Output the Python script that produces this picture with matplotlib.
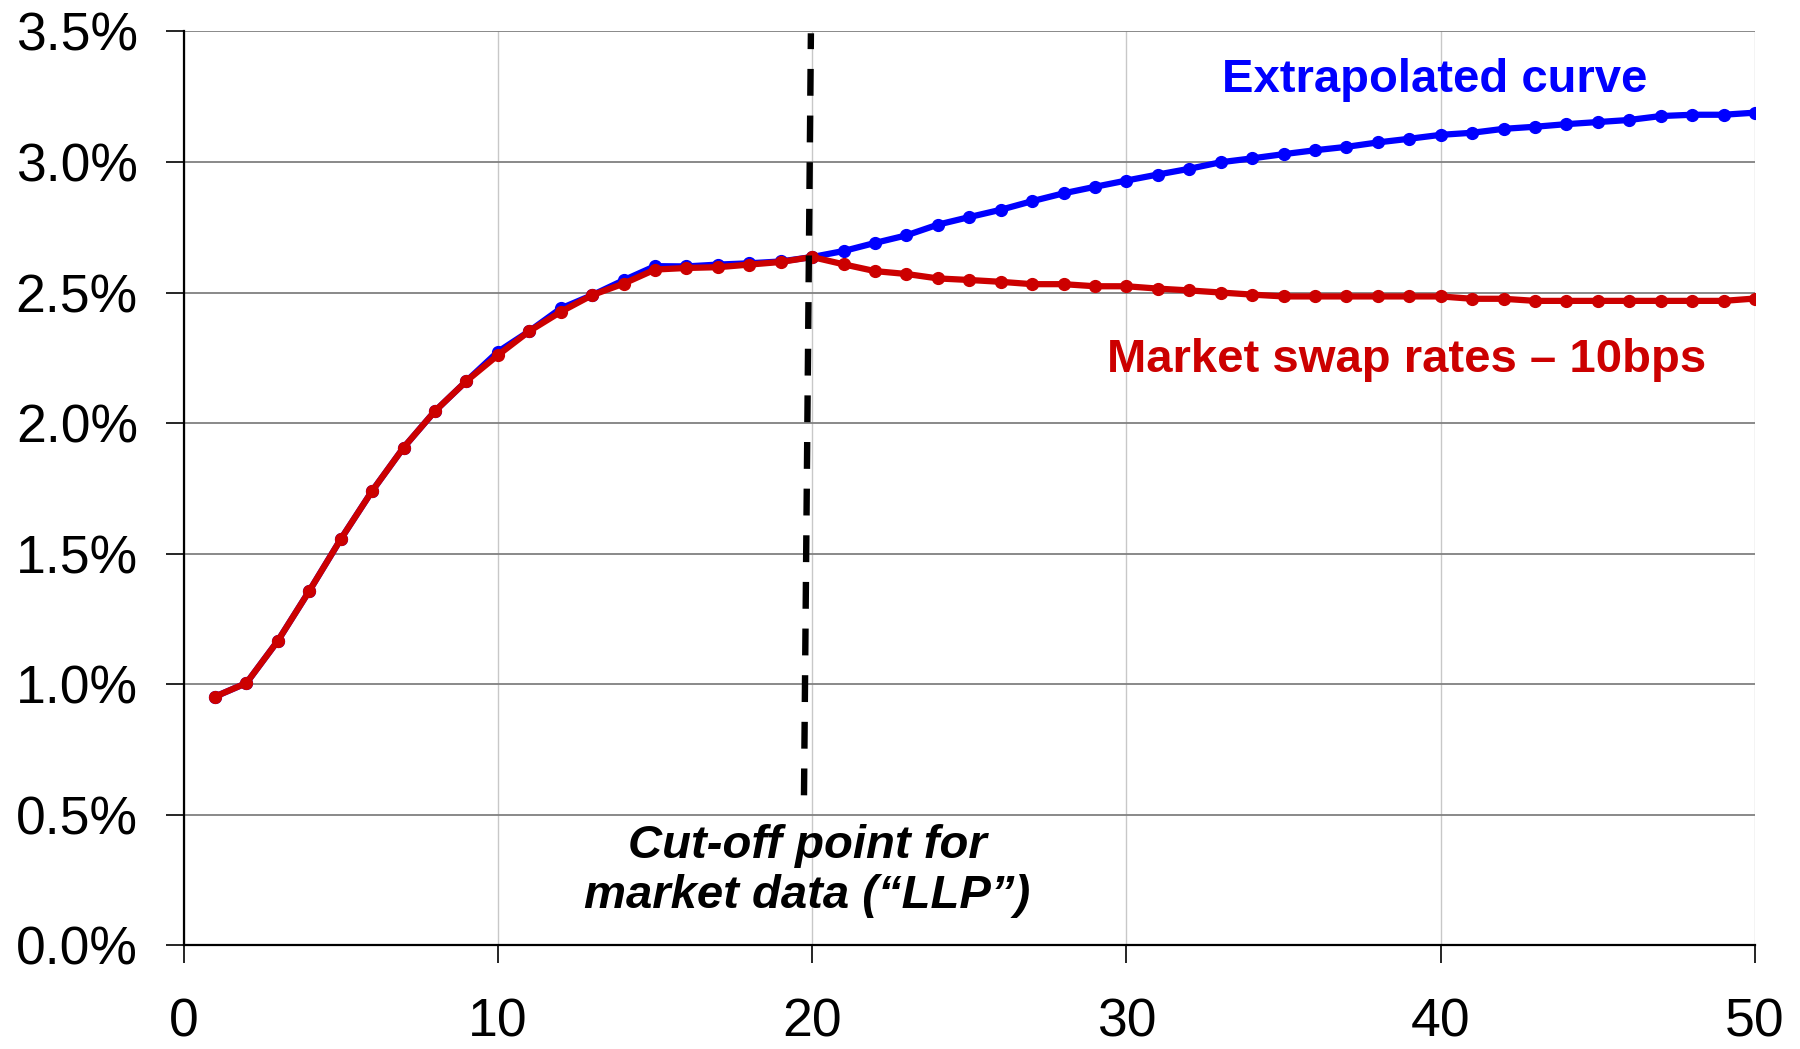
import numpy as np
import matplotlib
matplotlib.use("Agg")
import matplotlib.pyplot as plt
from matplotlib.ticker import FuncFormatter, MultipleLocator

plt.rcParams['font.family'] = ['Liberation Sans', 'DejaVu Sans']

# maturity in years
years = list(range(1, 51))

# market swap rates minus 10bps (%), common part up to the LLP at 20y
market = [0.952, 1.004, 1.166, 1.357, 1.555, 1.740, 1.906, 2.046, 2.161, 2.260,
          2.352, 2.426, 2.490, 2.534, 2.588, 2.594, 2.597, 2.607, 2.617, 2.636,
          2.608, 2.582, 2.571, 2.554, 2.548, 2.541, 2.532, 2.532, 2.524, 2.524,
          2.515, 2.508, 2.500, 2.492, 2.485, 2.485, 2.485, 2.485, 2.485, 2.485,
          2.476, 2.476, 2.468, 2.468, 2.468, 2.468, 2.468, 2.468, 2.468, 2.477]

# extrapolated curve (%)
extrap = [0.952, 1.004, 1.166, 1.357, 1.555, 1.740, 1.906, 2.046, 2.161, 2.273,
          2.352, 2.439, 2.490, 2.547, 2.601, 2.600, 2.607, 2.612, 2.619, 2.636,
          2.659, 2.690, 2.719, 2.760, 2.789, 2.817, 2.850, 2.880, 2.905, 2.929,
          2.952, 2.974, 2.999, 3.014, 3.030, 3.045, 3.058, 3.075, 3.089, 3.104,
          3.112, 3.127, 3.135, 3.145, 3.153, 3.161, 3.176, 3.181, 3.181, 3.189]

llp = 20

fig = plt.figure(figsize=(18, 10.49), dpi=100)
ax = fig.add_axes([0.102, 0.099, 0.873, 0.871])

ax.plot(years, extrap, color='#0000FF', lw=4.5, marker='o', ms=8.5, zorder=3)
ax.plot(years, market, color='#CC0000', lw=4.5, marker='o', ms=8.5, zorder=4)

# cut-off line (slightly slanted as in the original drawing)
ax.plot([llp - 0.26, llp - 0.04], [0.574, 3.493], color='black', lw=4.6,
        dashes=(4.2, 3.1), solid_capstyle='butt', zorder=5)

ax.text(39.8, 3.267, 'Extrapolated curve', color='#0000FF', fontsize=34,
        fontweight='bold', ha='center', va='baseline')
ax.text(38.9, 2.196, 'Market swap rates \u2013 10bps', color='#CC0000', fontsize=34,
        fontweight='bold', ha='center', va='baseline')
ax.text(19.85, 0.141, 'Cut-off point for\nmarket data (\u201cLLP\u201d)', color='black',
        fontsize=34, fontweight='bold', fontstyle='italic', ha='center',
        va='baseline', linespacing=1.2)

ax.set_xlim(0, 50)
ax.set_ylim(0, 3.5)
ax.xaxis.set_major_locator(MultipleLocator(10))
ax.yaxis.set_major_locator(MultipleLocator(0.5))
ax.yaxis.set_major_formatter(FuncFormatter(lambda v, p: f'{v:.1f}%'))

ax.grid(axis='y', color='#808080', lw=1.3, zorder=0)
ax.grid(axis='x', color='#c8c8c8', lw=1.0, zorder=0)
ax.set_axisbelow(True)

for s in ['top', 'right']:
    ax.spines[s].set_visible(False)
for s in ['left', 'bottom']:
    ax.spines[s].set_linewidth(1.6)
    ax.spines[s].set_color('black')

ax.tick_params(axis='both', direction='out', length=13, width=1.2, labelsize=38.5)
ax.tick_params(axis='y', pad=20)
ax.tick_params(axis='x', pad=25)

fig.savefig('out.png', dpi=100)
